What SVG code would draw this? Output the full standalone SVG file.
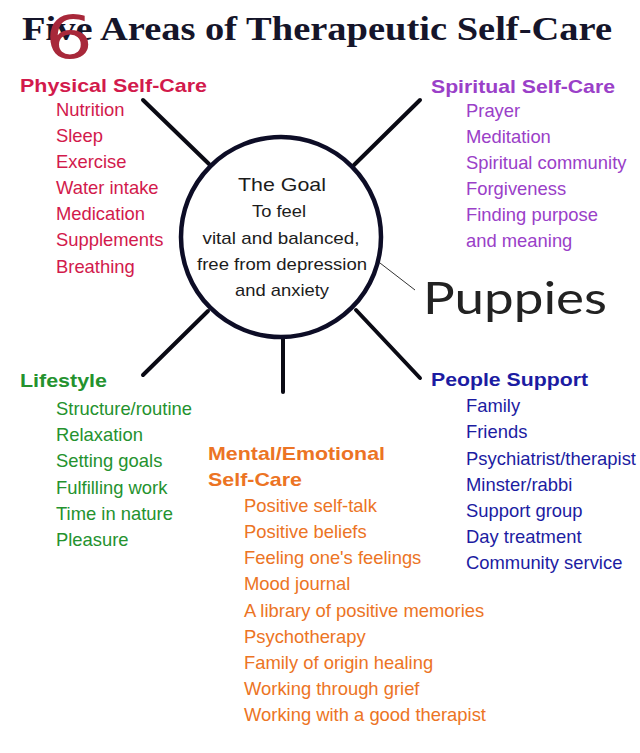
<svg xmlns="http://www.w3.org/2000/svg" width="640" height="753" viewBox="0 0 640 753">
<style>
text{font-family:"Liberation Sans",Arial,sans-serif;}
.title{font-family:"Liberation Serif","Times New Roman",serif;font-weight:bold;font-size:33px;fill:#15152a;}
.h{font-weight:bold;font-size:19px;}
.i{font-size:18.4px;}
.phys{fill:#d21a4c;}
.spir{fill:#9a40c8;}
.life{fill:#24922e;}
.peop{fill:#1c1ca2;}
.ment{fill:#ec7424;}
.goal{fill:#1c1c1c;text-anchor:middle;}
.spoke{stroke:#0a0a14;stroke-width:4;stroke-linecap:round;fill:none;}
</style>
<rect width="640" height="753" fill="#ffffff"/>
<g id="title">
<text class="title" x="22" y="40" textLength="590" lengthAdjust="spacingAndGlyphs">Five Areas of Therapeutic Self-Care</text>
<text x="0" y="0" font-size="58" fill="#a8283a" transform="translate(45 58) scale(1.3 1)" style="font-family:'DejaVu Sans',sans-serif">6</text>
</g>
<g id="connectors">
<line class="spoke" x1="143" y1="100" x2="209" y2="164"/>
<line class="spoke" x1="420" y1="100" x2="354" y2="165"/>
<line class="spoke" x1="208" y1="311" x2="143" y2="375"/>
<line class="spoke" x1="283" y1="336" x2="283" y2="392"/>
<line class="spoke" x1="356" y1="310" x2="420" y2="378"/>
<line x1="380" y1="263" x2="415" y2="290" stroke="#333" stroke-width="1"/>
</g>
<g id="goal">
<circle cx="281" cy="237" r="100" fill="#ffffff" stroke="#0d0d26" stroke-width="4.5"/>
<text class="goal" x="282" y="191" font-size="19" textLength="88" lengthAdjust="spacingAndGlyphs">The Goal</text>
<text class="goal" x="279" y="217" font-size="17" textLength="54" lengthAdjust="spacingAndGlyphs">To feel</text>
<text class="goal" x="281" y="244" font-size="17" textLength="157" lengthAdjust="spacingAndGlyphs">vital and balanced,</text>
<text class="goal" x="282" y="270" font-size="17" textLength="170" lengthAdjust="spacingAndGlyphs">free from depression</text>
<text class="goal" x="282" y="296" font-size="17" textLength="94" lengthAdjust="spacingAndGlyphs">and anxiety</text>
</g>
<g id="puppies">
<text x="423" y="314" font-size="44" fill="#222222" textLength="184" lengthAdjust="spacingAndGlyphs" style="font-family:Lato,'Open Sans',sans-serif">Puppies</text>
</g>
<g id="physical">
<text class="h phys" x="20" y="92" textLength="187" lengthAdjust="spacingAndGlyphs">Physical Self-Care</text>
<text class="i phys" x="56" y="116">Nutrition</text>
<text class="i phys" x="56" y="142">Sleep</text>
<text class="i phys" x="56" y="168">Exercise</text>
<text class="i phys" x="56" y="194">Water intake</text>
<text class="i phys" x="56" y="220">Medication</text>
<text class="i phys" x="56" y="246">Supplements</text>
<text class="i phys" x="56" y="273">Breathing</text>
</g>
<g id="spiritual">
<text class="h spir" x="431" y="93" textLength="184" lengthAdjust="spacingAndGlyphs">Spiritual Self-Care</text>
<text class="i spir" x="466" y="117">Prayer</text>
<text class="i spir" x="466" y="143">Meditation</text>
<text class="i spir" x="466" y="169">Spiritual community</text>
<text class="i spir" x="466" y="195">Forgiveness</text>
<text class="i spir" x="466" y="221">Finding purpose</text>
<text class="i spir" x="466" y="247">and meaning</text>
</g>
<g id="lifestyle">
<text class="h life" x="20" y="387" textLength="87" lengthAdjust="spacingAndGlyphs">Lifestyle</text>
<text class="i life" x="56" y="415">Structure/routine</text>
<text class="i life" x="56" y="441">Relaxation</text>
<text class="i life" x="56" y="467">Setting goals</text>
<text class="i life" x="56" y="494">Fulfilling work</text>
<text class="i life" x="56" y="520">Time in nature</text>
<text class="i life" x="56" y="546">Pleasure</text>
</g>
<g id="people">
<text class="h peop" x="431" y="386" textLength="157" lengthAdjust="spacingAndGlyphs">People Support</text>
<text class="i peop" x="466" y="412">Family</text>
<text class="i peop" x="466" y="438">Friends</text>
<text class="i peop" x="466" y="465" textLength="170" lengthAdjust="spacingAndGlyphs">Psychiatrist/therapist</text>
<text class="i peop" x="466" y="491">Minster/rabbi</text>
<text class="i peop" x="466" y="517">Support group</text>
<text class="i peop" x="466" y="543">Day treatment</text>
<text class="i peop" x="466" y="569">Community service</text>
</g>
<g id="mental">
<text class="h ment" x="208" y="460" textLength="177" lengthAdjust="spacingAndGlyphs">Mental/Emotional</text>
<text class="h ment" x="208" y="486" textLength="94" lengthAdjust="spacingAndGlyphs">Self-Care</text>
<text class="i ment" x="244" y="512">Positive self-talk</text>
<text class="i ment" x="244" y="538">Positive beliefs</text>
<text class="i ment" x="244" y="564">Feeling one's feelings</text>
<text class="i ment" x="244" y="590">Mood journal</text>
<text class="i ment" x="244" y="617">A library of positive memories</text>
<text class="i ment" x="244" y="643">Psychotherapy</text>
<text class="i ment" x="244" y="669">Family of origin healing</text>
<text class="i ment" x="244" y="695">Working through grief</text>
<text class="i ment" x="244" y="721">Working with a good therapist</text>
</g>
</svg>
